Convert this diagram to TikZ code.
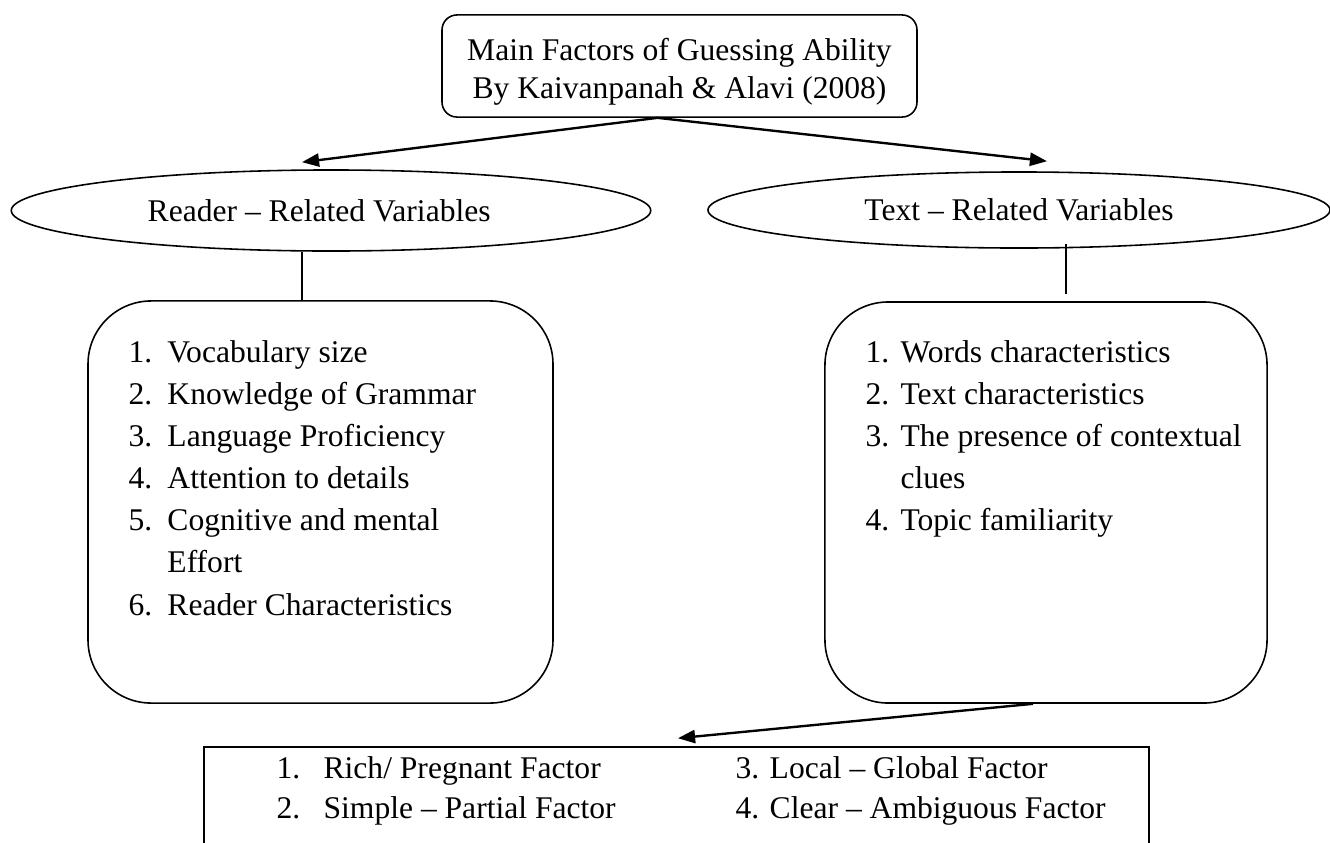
\documentclass[tikz,border=0pt]{standalone}
\usepackage{fontspec}
\setmainfont{Liberation Serif}
\usepackage{tikz}
\usetikzlibrary{arrows.meta,shapes.geometric,calc}
\tikzset{>/.tip={Triangle[length=6.5pt,width=5pt]}}

\newcommand{\itm}[2]{\makebox[#1][l]{#2}}

\begin{document}
\begin{tikzpicture}[x=0.38pt,y=-0.38pt,
  every node/.style={font=\fontsize{12}{16}\selectfont},
  titlebox/.style={draw,line width=0.6pt,rounded corners=5.7pt,minimum width=180.5pt,minimum height=38.8pt,align=center,font=\fontsize{12}{14.4}\selectfont},
  varell/.style={draw,ellipse,line width=0.6pt,inner sep=0pt},
  listbox/.style={draw,line width=0.6pt,rounded corners=24pt},
  listtext/.style={anchor=north west,inner sep=0pt,align=left},
  factbox/.style={draw,line width=0.6pt,minimum width=359.1pt,minimum height=57pt},
  link/.style={->,line width=0.9pt}]
\useasboundingbox (0,0) rectangle (1330,842);
\clip (0,0) rectangle (1330,842);

\node[titlebox] (main) at (679.5,66) {\rule{0pt}{13pt}Main Factors of Guessing Ability\\By Kaivanpanah \& Alavi (2008)};

\node[varell,minimum width=243pt,minimum height=30.8pt] (reader) at (331,210.5) {\makebox[0pt]{Reader -- Related Variables}\hspace*{9pt}};
\node[varell,minimum width=236.4pt,minimum height=28.9pt] (text) at (1019,210) {\makebox[0pt]{Text -- Related Variables}};

\node[listbox,minimum width=176.7pt,minimum height=152.8pt] (readerlist) at (320.5,502) {};
\node[listbox,minimum width=168pt,minimum height=152.4pt] (textlist) at (1046,502.5) {};

\node[listtext] (readeritems) at (128,340) {\itm{14.8pt}{1.}Vocabulary size\\
  \itm{14.8pt}{2.}Knowledge of Grammar\\
  \itm{14.8pt}{3.}Language Proficiency\\
  \itm{14.8pt}{4.}Attention to details\\
  \itm{14.8pt}{5.}Cognitive and mental\\
  \itm{14.8pt}{}Effort\\
  \itm{14.8pt}{6.}Reader Characteristics};
\node[listtext] (textitems) at (865,340) {\itm{13.3pt}{1.}Words characteristics\\
  \itm{13.3pt}{2.}Text characteristics\\
  \itm{13.3pt}{3.}The presence of contextual\\
  \itm{13.3pt}{}clues\\
  \itm{13.3pt}{4.}Topic familiarity};

\node[factbox] (factors) at (676.5,822) {};
\node[listtext,font=\fontsize{12}{15.2}\selectfont] (factleft) at (276,756) {\itm{17.9pt}{1.}Rich/ Pregnant Factor\\
  \itm{17.9pt}{2.}Simple -- Partial Factor};
\node[listtext,font=\fontsize{12}{15.2}\selectfont] (factright) at (735,756) {3. Local -- Global Factor\\
  4. Clear -- Ambiguous Factor};

\draw[link] ($(main.south)+(-22,0)$) -- ($(reader.north)+(-29,-7)$);
\draw[link] ($(main.south)+(-22,0)$) -- ($(text.north)+(28,-10)$);
\coordinate (rtop) at ($(reader.south)+(-29,0)$);
\draw[line width=0.6pt] (rtop) -- (rtop |- readerlist.north);
\coordinate (ttop) at ($(textlist.north)+(20,-57)$);
\draw[line width=0.6pt] (ttop) -- ($(textlist.north)+(20,-7)$);
\draw[link] ($(textlist.south)+(-13,0)$) -- ($(factors.north)+(1.5,-8)$);
\end{tikzpicture}
\end{document}
